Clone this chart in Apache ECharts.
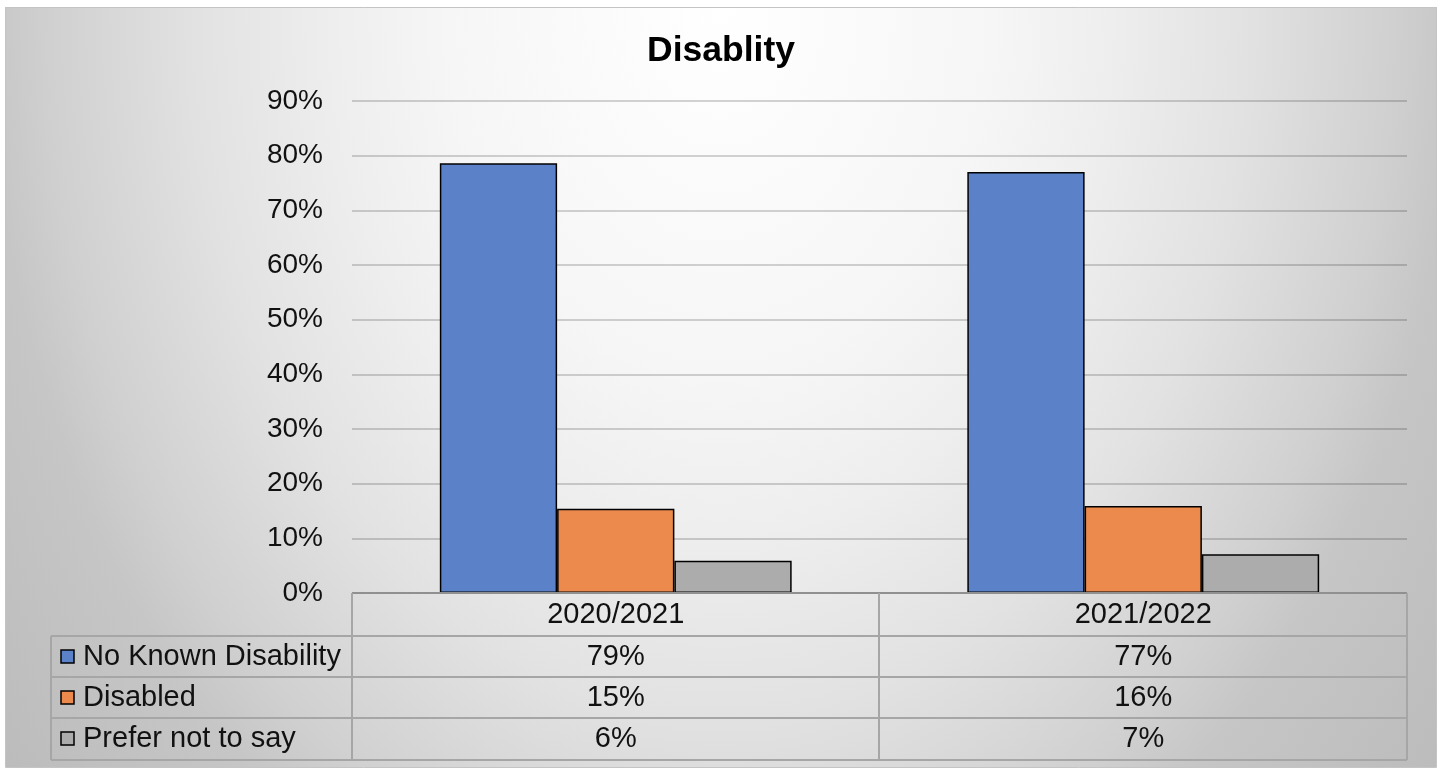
<!DOCTYPE html>
<html><head><meta charset="utf-8">
<script src="https://cdn.jsdelivr.net/npm/echarts@6/dist/echarts.min.js"></script>
<style>html,body{margin:0;padding:0;background:#fff}#c{width:1442px;height:769px}</style>
</head><body><div id="c"></div><script>
const categories = ['2020/2021', '2021/2022'];
const seriesNames = ['No Known Disability', 'Disabled', 'Prefer not to say'];
const noKnownDisability = [78.6, 77.0];
const disabled = [15.4, 15.9];
const preferNotToSay = [5.9, 7.1];
const seriesColors = ['#5b82c9', '#eb8a4c', '#acacac'];
const titleText = 'Disablity';

const seriesData = [noKnownDisability, disabled, preferNotToSay];
const FONT = '"Liberation Sans", Arial, sans-serif';

const chart = echarts.init(document.getElementById('c'), null, {renderer: 'canvas'});

const gridL = 352, gridR = 1407, gridT = 101, gridB = 593;
const tableLeft = 51;
const rowLines = [593, 636, 677, 718, 760];
const colLines = [352, 879, 1407];

chart.setOption({
  animation: false,
  title: {
    text: titleText, left: 'center', top: 28,
    textStyle: {fontFamily: FONT, fontSize: 35.5, fontWeight: 'bold', color: '#000'}
  },
  grid: {left: gridL, right: 1442 - gridR, top: gridT, bottom: 769 - gridB, containLabel: false},
  xAxis: {
    type: 'category', data: categories,
    axisLine: {show: false}, axisTick: {show: false}, axisLabel: {show: false}
  },
  yAxis: {
    type: 'value', min: 0, max: 90, interval: 10,
    axisLine: {show: false}, axisTick: {show: false},
    axisLabel: {formatter: '{value}%', fontFamily: FONT, fontSize: 28, color: '#111', margin: 29},
    splitLine: {lineStyle: {color: 'rgba(0,0,0,0.17)', width: 2}}
  },
  series: seriesNames.map((n, i) => ({
    name: n, type: 'bar', data: seriesData[i],
    barGap: '0%', barCategoryGap: '33.3%',
    itemStyle: {color: seriesColors[i], borderColor: '#000', borderWidth: 1.5}
  }))
});

const g = [];
// background
const bgX = 5, bgY = 7, bgW = 1432, bgH = 760, sy = 1.35;
g.push({
  type: 'rect', x: bgX, y: bgY, scaleY: sy, z: -100, silent: true,
  shape: {x: 0, y: 0, width: bgW, height: bgH / sy},
  style: {fill: {type: 'radial', x: 0.5, y: 0, r: 1050 / (bgH / sy), colorStops: [
    {offset: 0, color: '#ffffff'}, {offset: 0.26, color: '#f6f6f6'}, {offset: 0.37, color: '#eeeeee'},
    {offset: 0.5, color: '#e2e2e2'}, {offset: 0.64, color: '#d0d0d0'}, {offset: 0.7, color: '#c6c6c6'},
    {offset: 1, color: '#b4b4b4'}]}}
});
g.push({type: 'rect', z: -99, silent: true, shape: {x: bgX + 0.5, y: bgY + 0.5, width: bgW - 1, height: bgH},
  style: {fill: null, stroke: '#c4c4c4', lineWidth: 1}});

// table lines
const lineStyle = {stroke: '#a6a6a6', lineWidth: 2};
rowLines.forEach((y, i) => {
  g.push({type: 'line', z: 100, silent: true,
    shape: {x1: i === 0 ? colLines[0] : tableLeft, y1: y, x2: colLines[colLines.length - 1], y2: y},
    style: i === 0 ? {stroke: '#909090', lineWidth: 2} : lineStyle});
});
g.push({type: 'line', z: 100, silent: true, shape: {x1: tableLeft, y1: rowLines[1], x2: tableLeft, y2: rowLines[4]}, style: lineStyle});
colLines.forEach(x => {
  g.push({type: 'line', z: 100, silent: true, shape: {x1: x, y1: rowLines[0], x2: x, y2: rowLines[4]}, style: lineStyle});
});

// header + values
const txt = (x, y, text, align, size) => ({type: 'text', z: 101, silent: true, x: x, y: y,
  style: {text: text, fill: '#111', font: size + 'px ' + FONT, textAlign: align, textVerticalAlign: 'middle'}});
categories.forEach((c, ci) => {
  const cx = chart.convertToPixel({xAxisIndex: 0}, c);
  g.push(txt(cx, (rowLines[0] + rowLines[1]) / 2, c, 'center', 29));
  seriesData.forEach((arr, si) => {
    const cy = (rowLines[si + 1] + rowLines[si + 2]) / 2;
    g.push(txt(cx, cy, Math.round(arr[ci]) + '%', 'center', 29));
  });
});
seriesNames.forEach((n, si) => {
  const cy = (rowLines[si + 1] + rowLines[si + 2]) / 2;
  g.push({type: 'rect', z: 101, silent: true, shape: {x: 61, y: Math.round(cy) - 7, width: 13, height: 13},
    style: {fill: seriesColors[si], stroke: '#000', lineWidth: 1.5}});
  g.push(txt(83, cy, n, 'left', 29));
});

chart.setOption({graphic: {elements: g}});
</script></body></html>
